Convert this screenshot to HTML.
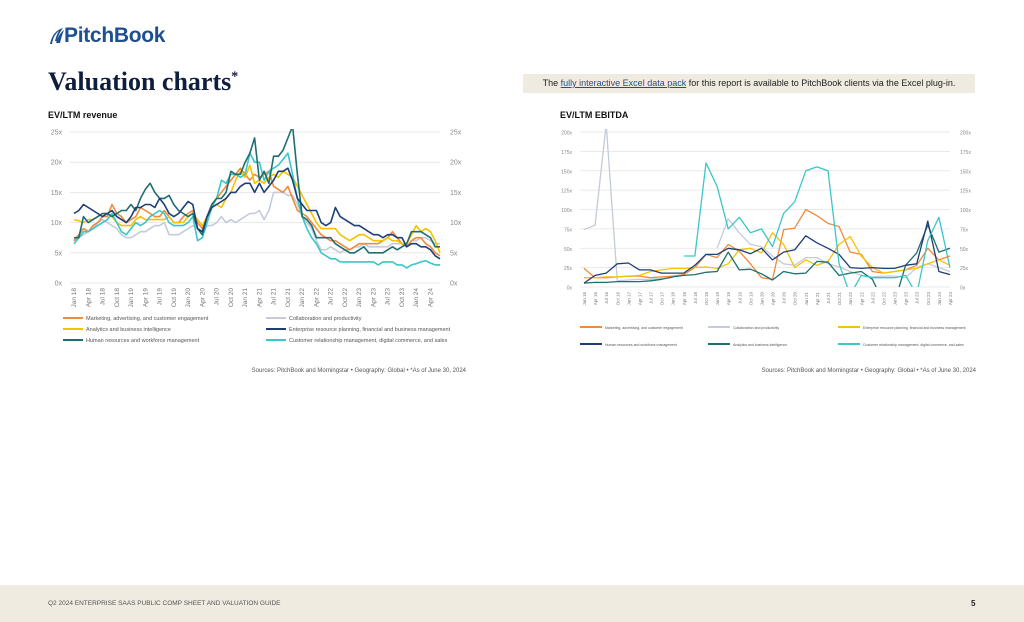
<!DOCTYPE html>
<html><head><meta charset="utf-8"><style>
body{margin:0;width:1024px;height:622px;background:#fff;font-family:"Liberation Sans",sans-serif;position:relative;overflow:hidden}
.abs{position:absolute}
</style></head><body>
<svg class="abs" style="left:48px;top:27px" width="16" height="18"><path d="M2 17 C4 8 8 3 15 1 C12 5 10 9 9 14 L7 14 C8 10 9 7 11 4 C7 7 5 11 4 17 Z" fill="#1d4f91"/><path d="M8 16 C10 10 12 6 16 3 C14 8 13 12 12 16 Z" fill="#1d4f91"/></svg>
<div class="abs" style="left:64px;top:24px;font-size:21px;font-weight:bold;color:#1d4f91;letter-spacing:-0.3px">PitchBook</div>
<div class="abs" style="left:48px;top:67px;font-family:'Liberation Serif',serif;font-weight:bold;font-size:26px;color:#0f1e3c">Valuation charts<sup style="font-size:14px">*</sup></div>
<div class="abs" style="left:523px;top:74px;width:452px;height:19px;background:#f0ebe0;font-size:9px;line-height:19px;color:#222;text-align:center">The <span style="color:#1d4f91;text-decoration:underline">fully interactive Excel data pack</span> for this report is available to PitchBook clients via the Excel plug-in.</div>
<svg class="abs" style="left:0;top:0" width="1024" height="622" id="svg"></svg>
<div class="abs" style="left:0;top:585px;width:1024px;height:37px;background:#f0ebe0"></div>
<div class="abs" style="left:48px;top:600px;font-size:6.5px;color:#555">Q2 2024 ENTERPRISE SAAS PUBLIC COMP SHEET AND VALUATION GUIDE</div>
<div class="abs" style="left:971px;top:599px;font-size:8px;font-weight:bold;color:#222">5</div>
<script>
const leftTicks=["Jan 18","Apr 18","Jul 18","Oct 18","Jan 19","Apr 19","Jul 19","Oct 19","Jan 20","Apr 20","Jul 20","Oct 20","Jan 21","Apr 21","Jul 21","Oct 21","Jan 22","Apr 22","Jul 22","Oct 22","Jan 23","Apr 23","Jul 23","Oct 23","Jan 24","Apr 24"];
const leftY=[0,5,10,15,20,25];
const lMarketing=[7,8,9,8.5,9.5,10,11,11,13,11.5,11,10, 10.5,11,12.5,12,11.5,11,11,12,11,10,10,11, 11.5,12,10,9,11,13,14,15,16,17,18,19, 18,17,18,17.5,18,18.5,16,15.5,15,16,14,12, 11.5,11,10,9,8,7.5,7,7,6.5,6,5.5,6, 6.5,6.5,6.5,6.5,6.5,7,7.5,8.5,7.5,6.5,6,7, 7.5,7.5,6.5,6,5,4.5];
const lCollab=[7,7.5,8,8.5,9,10,10.5,10,9.5,9,8,7.5, 7.5,8,8.5,8.5,9,9.5,9.5,10,8,8,8,8.5, 9,9.5,9,8,9.5,9.5,10,11,10,10.5,10,10.5, 11,11.5,11.5,12,10.5,12,15,15,15,14.5,14.5,13, 11,10,9,7,5.5,5.5,6,5.5,5,5.5,5.5,6, 6,6.5,6,6,6,6,6,6.5,6.5,6.5,6,7, 7,7.5,7.5,7,6.5,6.5];
const lAnalytics=[10.5,10.3,10,10.5,10.5,11,11.5,11.5,11,10,9.5,9.5, 9.5,10.5,11,10.5,10.5,10.5,10.5,10.5,11,10,10,10, 11,11.5,10.5,9.5,11,12.5,13,12.5,14,15,17,18.5, 17.5,19.5,16.5,17,16.5,17.5,18,17.5,18.5,18,17.5,16, 14.5,13,11.5,10,9,9,9,9,8,7.5,7,7.5, 8,8,7.5,7,7,7,7.5,7,7,6.5,6.5,8, 9.5,8.5,9,8.5,7,5];
const lERP=[11.5,12,13,12.5,12,11.5,11,11.5,12,11,10.5,10, 11,12.5,12.5,13,13,12.5,14,13,11.5,11,11.5,12.5, 13.5,13,9,8.5,11,12.5,13,13.5,14,15,15,16, 16.5,16.5,15,16.5,15,16,17,18.5,18.5,19,17,14, 13,12,12,12,10,9.5,10,12.5,11,10.5,10,9.5, 9.5,9,8.5,8,8,7.5,8,8,7.5,7.5,6,6.5, 6.5,6,6,5.5,4.5,4];
const lHR=[7.5,7.5,11,10,10.5,11,11.5,11.5,11,11.5,12,12, 13,12,14,15.5,16.5,15,14,14,14.5,13,12,11.5, 11,11.5,9,8,11,13,14,14,15,18.5,18,18, 20,21.5,24,17,18.5,16.5,21,21,22,24,26,18, 11,10.5,9.5,7.5,7.5,7.5,7.5,6.5,6,5.5,5,5, 5.5,6,5,5,5,5,5.5,6,5.5,6,6.5,8.5, 8.5,8.5,8,7.5,6,6];
const lCRM=[6.5,7.5,8.5,8.5,9,9.5,10,10.5,11.5,10,8.5,8, 9,10,9.5,10,11,11.5,12,11.5,10,9.5,9.5,9.5, 10,11,7,7.5,10,12.5,14,17,16.5,18,18,17.5, 18,21.5,20,20,17,18.5,19,19.5,20.5,21.5,18,14, 11,9,7.5,6.5,5,4.5,4,4,3.5,3.5,3.5,3.5, 3.5,3.5,3.5,3.5,3,3.5,3.5,3.5,3,3,2.5,3, 3.2,3.5,3.7,3.3,3,3];

const rightTicks=["Jan 16","Apr 16","Jul 16","Oct 16","Jan 17","Apr 17","Jul 17","Oct 17","Jan 18","Apr 18","Jul 18","Oct 18","Jan 19","Apr 19","Jul 19","Oct 19","Jan 20","Apr 20","Jul 20","Oct 20","Jan 21","Apr 21","Jul 21","Oct 21","Jan 22","Apr 22","Jul 22","Oct 22","Jan 23","Apr 23","Jul 23","Oct 23","Jan 24","Apr 24"];
const rightY=[0,25,50,75,100,125,150,175,200];
const rMarketing=[24,12,12,13,14,14,12,13,14,16,25,42,38,55,46,30,12,10,74,76,100,92,82,78,45,42,20,18,20,22,28,50,35,40];
const rCollab=[74,80,210,8,9,10,10,11,12,null,null,null,50,88,70,55,52,40,30,28,38,38,30,26,20,15,13,14,14,12,25,30,25,20];
const rERP=[12,12,13,13,14,15,20,22,24,24,25,26,24,30,48,50,44,70,55,25,35,28,33,55,65,40,25,18,20,22,24,30,35,28];
const rHR=[5,15,18,30,31,22,22,18,18,18,28,42,42,50,48,43,50,35,45,48,66,57,50,42,25,24,25,24,24,28,30,85,20,16];
const rAnalytics=[5,6,6,7,7,7,8,10,13,15,16,19,20,45,22,23,17,9,20,17,18,33,32,15,18,20,10,-20,-20,28,44,80,45,50];
const rCRM=[null,null,null,null,null,null,null,null,null,40,40,160,130,75,90,70,75,52,95,110,150,155,150,30,-10,15,12,12,12,15,-10,60,90,25];

const C={orange:"#f08a3c",gray:"#c3ccd8",yellow:"#f5c300",navy:"#1d3f75",teal:"#1f6e70",cyan:"#3bc6c9"};
const svg=document.getElementById('svg');
const NS="http://www.w3.org/2000/svg";
function mk(t,a,parent){const e=document.createElementNS(NS,t);for(const k in a)e.setAttribute(k,a[k]);(parent||svg).appendChild(e);return e;}
function txt(x,y,s,size,fill,anchor,rot){const e=mk('text',{x:x,y:y,'font-size':size,fill:fill,'text-anchor':anchor||'start','font-family':'Liberation Sans, sans-serif'});if(rot)e.setAttribute('transform','rotate(-90 '+x+' '+y+')');e.textContent=s;return e;}

function chart(o){
  const xs=i=>o.x0+i*(o.x1-o.x0)/(o.n-1);
  const ys=v=>o.yb-(v/o.ymax)*(o.yb-o.yt);
  const t=txt(o.tx,118,o.title,9,"#111");t.setAttribute('font-weight','bold');
  
  
  o.yticks.forEach(v=>{
    const l=mk('line',{x1:o.x0-4,x2:o.x1,y1:ys(v),y2:ys(v),stroke:'#e3e3e3','stroke-width':0.8});
    
    
    const a=txt(o.x0-12,ys(v)+2.5,v+'x',o.fs,'#888','end');
    
    
    const b=txt(o.x1+10,ys(v)+2.5,v+'x',o.fs,'#888','start');
    
    
  });
  o.xticks.forEach((s,i)=>{
    const x=xs(i*o.step);
    const e=txt(x+2,o.yb+5,s,o.xfs,'#777','end',true);
    
    
  });
  const cp=mk('clipPath',{id:'cp'+o.id});mk('rect',{x:o.x0-2,y:o.yt-3,width:o.x1-o.x0+4,height:o.yb-o.yt+3},cp);
  o.series.forEach(s=>{
    let d='',pen=false;
    s.v.forEach((v,i)=>{if(v===null){pen=false;return;}d+=(pen?'L':'M')+xs(i).toFixed(1)+' '+ys(v).toFixed(1);pen=true;});
    const p=mk('path',{d:d,fill:'none',stroke:s.c,'stroke-width':o.sw,'stroke-linejoin':'round','clip-path':'url(#cp'+o.id+')'});
    
    
  });
  o.legend.forEach(g=>{
    const l=mk('line',{x1:g.x,x2:g.x+o.lw,y1:g.y,y2:g.y,stroke:g.c,'stroke-width':2});
    
    
    const e=txt(g.x+o.lw+3,g.y+2,g.t,o.lfs,'#555');
    
    
  });
  const src=txt(o.srcx,372,"Sources: PitchBook and Morningstar  \u2022  Geography: Global  \u2022  *As of June 30, 2024",6,'#555','end');
  
  
}
chart({id:'revenue',title:'EV/LTM revenue',tx:48,x0:74,x1:440,n:78,yt:132,yb:283,ymax:25,yticks:leftY,xticks:leftTicks,step:3,fs:7,xfs:6.5,sw:1.6,lw:20,lfs:5.5,srcx:466,
 series:[{n:'collaboration',v:lCollab,c:C.gray},{n:'marketing',v:lMarketing,c:C.orange},{n:'analytics',v:lAnalytics,c:C.yellow},{n:'crm',v:lCRM,c:C.cyan},{n:'hr',v:lHR,c:C.teal},{n:'erp',v:lERP,c:C.navy}],
 legend:[{x:63,y:318,c:C.orange,t:'Marketing, advertising, and customer engagement'},{x:266,y:318,c:C.gray,t:'Collaboration and productivity'},
 {x:63,y:329,c:C.yellow,t:'Analytics and business intelligence'},{x:266,y:329,c:C.navy,t:'Enterprise resource planning, financial and business management'},
 {x:63,y:340,c:C.teal,t:'Human resources and workforce management'},{x:266,y:340,c:C.cyan,t:'Customer relationship management, digital commerce, and sales'}]});
chart({id:'ebitda',title:'EV/LTM EBITDA',tx:560,x0:584,x1:950,n:34,yt:132,yb:287,ymax:200,yticks:rightY,xticks:rightTicks,step:1,fs:5,xfs:4.5,sw:1.3,lw:22,lfs:3.5,srcx:976,
 series:[{n:'collaboration',v:rCollab,c:C.gray},{n:'marketing',v:rMarketing,c:C.orange},{n:'erp',v:rERP,c:C.yellow},{n:'analytics',v:rAnalytics,c:C.teal},{n:'hr',v:rHR,c:C.navy},{n:'crm',v:rCRM,c:C.cyan}],
 legend:[{x:580,y:327,c:C.orange,t:'Marketing, advertising, and customer engagement'},{x:708,y:327,c:C.gray,t:'Collaboration and productivity'},{x:838,y:327,c:C.yellow,t:'Enterprise resource planning, financial and business management'},
 {x:580,y:344,c:C.navy,t:'Human resources and workforce management'},{x:708,y:344,c:C.teal,t:'Analytics and business intelligence'},{x:838,y:344,c:C.cyan,t:'Customer relationship management, digital commerce, and sales'}]});
</script>
</body></html>
